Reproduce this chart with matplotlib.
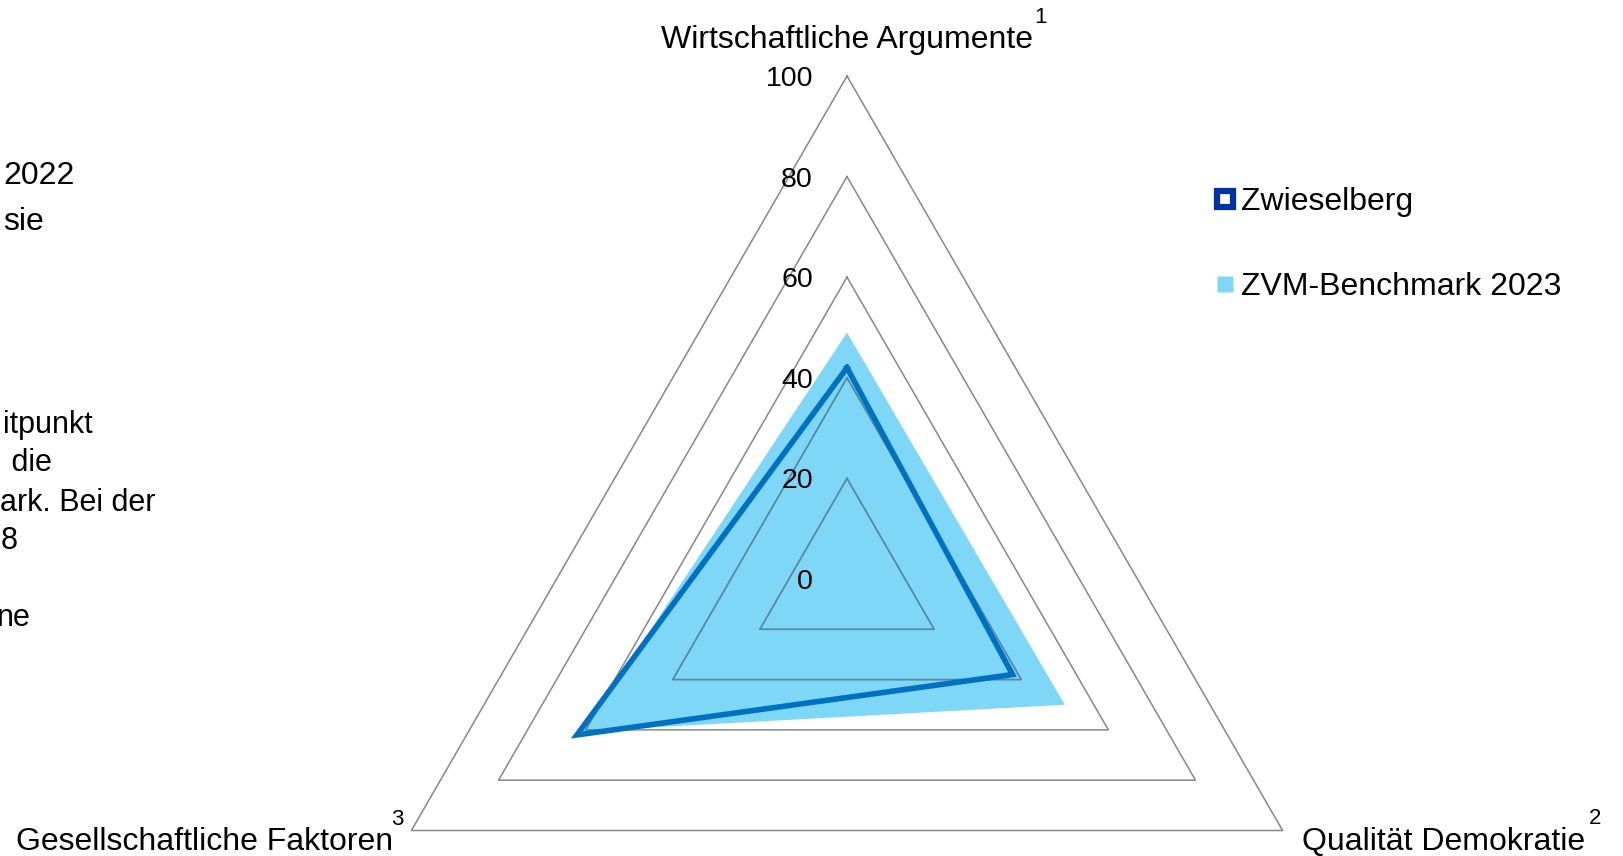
import numpy as np
import matplotlib
matplotlib.use('Agg')
import matplotlib.pyplot as plt
from matplotlib.lines import Line2D
from matplotlib.transforms import offset_copy

# ---------------- data ----------------
categories = ['Wirtschaftliche Argumente', 'Qualität Demokratie', 'Gesellschaftliche Faktoren']
footnotes = ['1', '2', '3']
zwieselberg = [42, 38, 62]
benchmark = [49, 50, 60.5]
ticks = [0, 20, 40, 60, 80, 100]
series_names = ['Zwieselberg', 'ZVM-Benchmark 2023']
side_text = ['2022', 'sie', 'itpunkt', ' die', 'ark. Bei der', '8', 'ne']

plt.rcParams['font.family'] = ['Liberation Sans', 'DejaVu Sans']

W, H = 1624, 856
fig = plt.figure(figsize=(W / 100, H / 100), dpi=100)

def fx(px):
    return px / W

def fy(py):
    return 1 - py / H

# radar area (center and radius in pixels)
cx, cy, R = 847, 579, 503
ax = fig.add_axes([(cx - R) / W, (H - cy - R) / H, 2 * R / W, 2 * R / H])
ax.set_xlim(-100, 100)
ax.set_ylim(-100, 100)
ax.axis('off')

theta = np.arange(len(categories)) * 2 * np.pi / len(categories)

def xy(vals):
    v = np.asarray(vals, dtype=float)
    v = np.r_[v, v[:1]]
    t = np.r_[theta, theta[:1]]
    return v * np.sin(t), v * np.cos(t)

bx, by = xy(benchmark)
fill = ax.fill(bx, by, color='#7fd7f7', lw=0, zorder=1, clip_on=False)[0]

for t in ticks[1:]:
    gx, gy = xy([t] * len(categories))
    ax.plot(gx, gy, color='#878787', lw=1.1, zorder=2, clip_on=False)
    ln, = ax.plot(gx, gy, color='#4b8ea6', lw=1.1, zorder=3)
    ln.set_clip_path(fill)

zx, zy = xy(zwieselberg)
ax.plot(zx, zy, color='#0070c0', lw=4.0, zorder=4, clip_on=False,
        solid_joinstyle='miter')

# tick labels along the top axis
tick_tr = offset_copy(ax.transData, fig=fig, x=-34, y=-10, units='dots')
for t in ticks:
    ax.text(0, t, str(t), transform=tick_tr, ha='right', va='baseline',
            fontsize=20.5, color='black', zorder=5, clip_on=False)

# category labels with footnote numbers
fig.text(fx(847), fy(48), categories[0], ha='center', va='baseline', fontsize=23)
fig.text(fx(1041), fy(23), footnotes[0], ha='center', va='baseline', fontsize=16)
fig.text(fx(1302), fy(850), categories[1], ha='left', va='baseline', fontsize=23)
fig.text(fx(1595), fy(824), footnotes[1], ha='center', va='baseline', fontsize=16)
fig.text(fx(16), fy(850), categories[2], ha='left', va='baseline', fontsize=23)
fig.text(fx(397), fy(825), footnotes[2], ha='center', va='baseline', fontsize=16)

# cut-off text on the left border
side_pos = [(3, 184), (3, 230), (3, 433), (3, 471), (0, 511), (1, 549), (-3, 626)]
side_size = [23, 23, 22, 22, 22, 22, 22]
for s, (px, py), fs in zip(side_text, side_pos, side_size):
    fig.text(fx(px), fy(py), s, ha='left', va='baseline', fontsize=fs)

# legend
handles = [
    Line2D([], [], ls='none', marker='s', markersize=11, markerfacecolor='white',
           markeredgecolor='#0033a0', markeredgewidth=4.5),
    Line2D([], [], ls='none', marker='s', markersize=12, markerfacecolor='#7fd7f7',
           markeredgecolor='none'),
]
fig.legend(handles, series_names, loc='center left',
           bbox_to_anchor=(fx(1215), fy(244.5)), frameon=False, fontsize=23,
           handlelength=0.6, handletextpad=0.2, labelspacing=1.72, borderpad=0,
           borderaxespad=0)

fig.savefig('out.png', dpi=100)
